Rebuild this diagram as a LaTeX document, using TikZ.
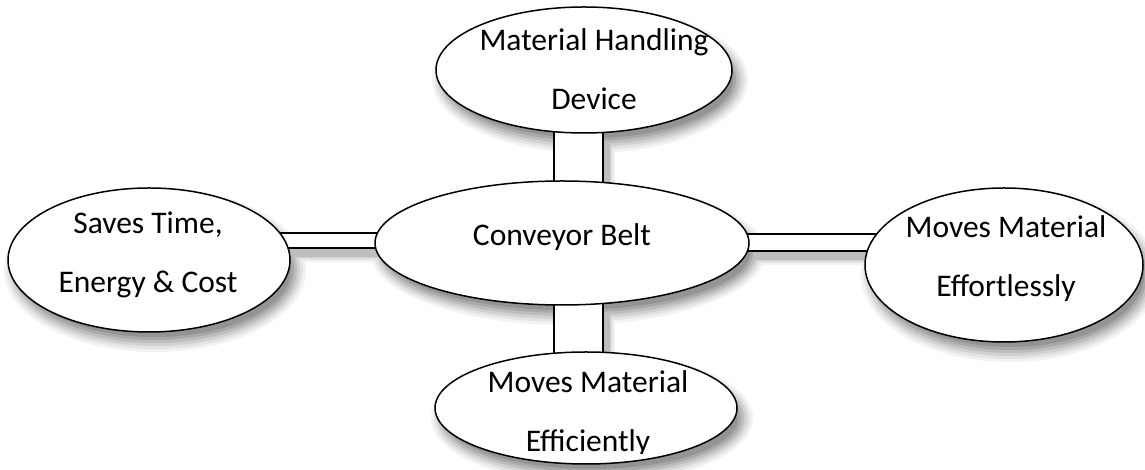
\documentclass[tikz,border=0pt]{standalone}
\usepackage{fontspec}
\setmainfont{Carlito}
\usetikzlibrary{shapes.geometric,backgrounds,calc}
\begin{document}
\begin{tikzpicture}[x=1pt,y=1pt,
  oval/.style={ellipse, draw, line width=1.5pt, fill=white, inner sep=0pt},
  lbl/.style={align=center, font=\fontsize{31.5}{59}\selectfont, inner sep=0pt, anchor=base},
  bar/.style={draw, line width=1.5pt, fill=white},
  sa/.style={fill=black!5}, sb/.style={fill=black!11}, sc/.style={fill=black!18},
  sd/.style={fill=black!26}, se/.style={fill=black!34}, sf/.style={fill=black!42}]
\useasboundingbox (0,0) rectangle (1145,470);

% ellipses
\node[oval, minimum width=296pt, minimum height=126pt] (top) at (584,400) {};
\node[oval, minimum width=374pt, minimum height=124pt] (cb) at (562,227) {};
\node[oval, minimum width=282pt, minimum height=144pt] (left) at (149,210) {};
\node[oval, minimum width=278pt, minimum height=154pt] (right) at (1004,205) {};
\node[oval, minimum width=302pt, minimum height=112pt] (bot) at (586,62) {};

% corners of the connector bars
\coordinate (t1) at ([xshift=-30pt,yshift=-10pt]top.south |- cb.north);
\coordinate (t2) at ([xshift=19pt,yshift=10pt]top.south);
\coordinate (b1) at ([xshift=-32pt,yshift=-10pt]bot.north);
\coordinate (b2) at ([xshift=17pt,yshift=10pt]bot.north |- cb.south);
\coordinate (l1) at ([xshift=-20pt,yshift=-5pt]cb.west -| left.east);
\coordinate (l2) at ([xshift=10pt,yshift=10pt]cb.west);
\coordinate (r1) at ([xshift=-10pt,yshift=-8pt]cb.east);
\coordinate (r2) at ([xshift=20pt,yshift=9pt]cb.east -| right.west);

\begin{pgfonlayer}{background}
% soft shadows, light outer rings first
\fill[sa] ([xshift=6pt,yshift=-10pt]top.center) ellipse [x radius=158, y radius=73];
\fill[sa] ([xshift=6pt,yshift=-10pt]cb.center) ellipse [x radius=197, y radius=72];
\fill[sa] ([xshift=6pt,yshift=-10pt]left.center) ellipse [x radius=151, y radius=82];
\fill[sa] ([xshift=6pt,yshift=-10pt]right.center) ellipse [x radius=149, y radius=87];
\fill[sa] ([xshift=6pt,yshift=-10pt]bot.center) ellipse [x radius=161, y radius=66];
\fill[sa] ([xshift=0pt,yshift=-14pt]t1) rectangle ([xshift=12pt,yshift=-2pt]t2);
\fill[sa] ([xshift=0pt,yshift=-14pt]b1) rectangle ([xshift=12pt,yshift=-2pt]b2);
\fill[sa] ([xshift=0pt,yshift=-14pt]l1) rectangle ([xshift=12pt,yshift=-2pt]l2);
\fill[sa] ([xshift=0pt,yshift=-14pt]r1) rectangle ([xshift=12pt,yshift=-2pt]r2);

\fill[sb] ([xshift=6pt,yshift=-10pt]top.center) ellipse [x radius=155, y radius=70];
\fill[sb] ([xshift=6pt,yshift=-10pt]cb.center) ellipse [x radius=194, y radius=69];
\fill[sb] ([xshift=6pt,yshift=-10pt]left.center) ellipse [x radius=148, y radius=79];
\fill[sb] ([xshift=6pt,yshift=-10pt]right.center) ellipse [x radius=146, y radius=84];
\fill[sb] ([xshift=6pt,yshift=-10pt]bot.center) ellipse [x radius=158, y radius=63];
\fill[sb] ([xshift=1.8pt,yshift=-12.2pt]t1) rectangle ([xshift=10.2pt,yshift=-3.8pt]t2);
\fill[sb] ([xshift=1.8pt,yshift=-12.2pt]b1) rectangle ([xshift=10.2pt,yshift=-3.8pt]b2);
\fill[sb] ([xshift=1.8pt,yshift=-12.2pt]l1) rectangle ([xshift=10.2pt,yshift=-3.8pt]l2);
\fill[sb] ([xshift=1.8pt,yshift=-12.2pt]r1) rectangle ([xshift=10.2pt,yshift=-3.8pt]r2);

\fill[sc] ([xshift=6pt,yshift=-10pt]top.center) ellipse [x radius=152, y radius=67];
\fill[sc] ([xshift=6pt,yshift=-10pt]cb.center) ellipse [x radius=191, y radius=66];
\fill[sc] ([xshift=6pt,yshift=-10pt]left.center) ellipse [x radius=145, y radius=76];
\fill[sc] ([xshift=6pt,yshift=-10pt]right.center) ellipse [x radius=143, y radius=81];
\fill[sc] ([xshift=6pt,yshift=-10pt]bot.center) ellipse [x radius=155, y radius=60];
\fill[sc] ([xshift=3.6pt,yshift=-10.4pt]t1) rectangle ([xshift=8.4pt,yshift=-5.6pt]t2);
\fill[sc] ([xshift=3.6pt,yshift=-10.4pt]b1) rectangle ([xshift=8.4pt,yshift=-5.6pt]b2);
\fill[sc] ([xshift=3.6pt,yshift=-10.4pt]l1) rectangle ([xshift=8.4pt,yshift=-5.6pt]l2);
\fill[sc] ([xshift=3.6pt,yshift=-10.4pt]r1) rectangle ([xshift=8.4pt,yshift=-5.6pt]r2);

\fill[sd] ([xshift=6pt,yshift=-10pt]top.center) ellipse [x radius=149, y radius=64];
\fill[sd] ([xshift=6pt,yshift=-10pt]cb.center) ellipse [x radius=188, y radius=63];
\fill[sd] ([xshift=6pt,yshift=-10pt]left.center) ellipse [x radius=142, y radius=73];
\fill[sd] ([xshift=6pt,yshift=-10pt]right.center) ellipse [x radius=140, y radius=78];
\fill[sd] ([xshift=6pt,yshift=-10pt]bot.center) ellipse [x radius=152, y radius=57];
\fill[sd] ([xshift=5.4pt,yshift=-8.6pt]t1) rectangle ([xshift=6.6pt,yshift=-7.4pt]t2);
\fill[sd] ([xshift=5.4pt,yshift=-8.6pt]b1) rectangle ([xshift=6.6pt,yshift=-7.4pt]b2);
\fill[sd] ([xshift=5.4pt,yshift=-8.6pt]l1) rectangle ([xshift=6.6pt,yshift=-7.4pt]l2);
\fill[sd] ([xshift=5.4pt,yshift=-8.6pt]r1) rectangle ([xshift=6.6pt,yshift=-7.4pt]r2);

\fill[se] ([xshift=6pt,yshift=-10pt]top.center) ellipse [x radius=146, y radius=61];
\fill[se] ([xshift=6pt,yshift=-10pt]cb.center) ellipse [x radius=185, y radius=60];
\fill[se] ([xshift=6pt,yshift=-10pt]left.center) ellipse [x radius=139, y radius=70];
\fill[se] ([xshift=6pt,yshift=-10pt]right.center) ellipse [x radius=137, y radius=75];
\fill[se] ([xshift=6pt,yshift=-10pt]bot.center) ellipse [x radius=149, y radius=54];

\fill[sf] ([xshift=6pt,yshift=-10pt]top.center) ellipse [x radius=143, y radius=58];
\fill[sf] ([xshift=6pt,yshift=-10pt]cb.center) ellipse [x radius=182, y radius=57];
\fill[sf] ([xshift=6pt,yshift=-10pt]left.center) ellipse [x radius=136, y radius=67];
\fill[sf] ([xshift=6pt,yshift=-10pt]right.center) ellipse [x radius=134, y radius=72];
\fill[sf] ([xshift=6pt,yshift=-10pt]bot.center) ellipse [x radius=146, y radius=51];

% connector bars
\draw[bar] (t1) rectangle (t2);
\draw[bar] (b1) rectangle (b2);
\draw[bar] (l1) rectangle (l2);
\draw[bar] (r1) rectangle (r2);
\end{pgfonlayer}

% texts
\node[lbl] (toptxt) at (594,360) {Material Handling\\Device};
\node[lbl] (cbtxt) at (562,224) {Conveyor Belt};
\node[lbl] (lefttxt) at (148,177) {Saves Time,\\Energy \& Cost};
\node[lbl] (righttxt) at (1006,173) {Moves Material\\Effortlessly};
\begin{scope}
\clip (bot.west |- bot.north) rectangle ([yshift=11pt]bot.east |- bot.south);
\node[lbl] (bottxt) at (588,18) {Moves Material\\Efficiently};
\end{scope}
\end{tikzpicture}
\end{document}
